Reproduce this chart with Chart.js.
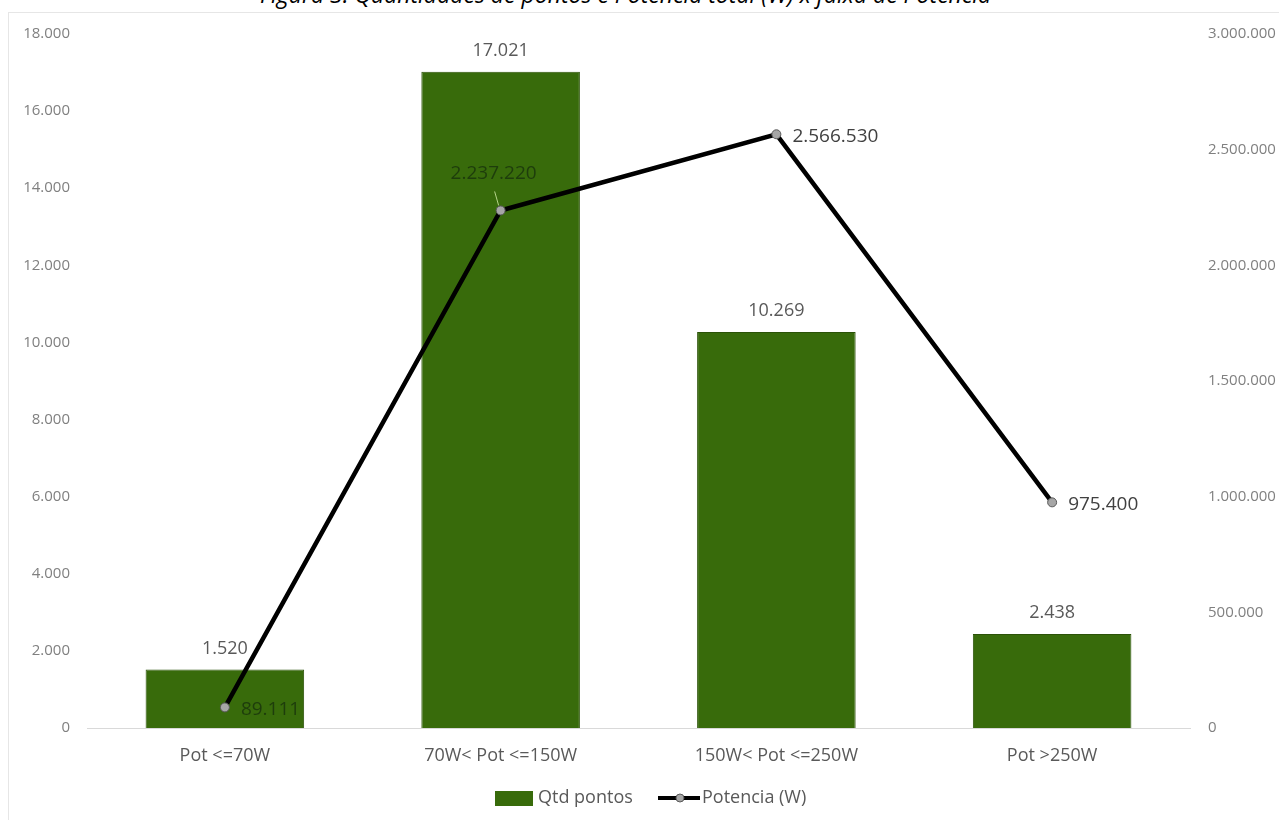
<!DOCTYPE html>
<html>
<head>
<meta charset="utf-8">
<script src="https://cdn.jsdelivr.net/npm/chart.js@4.4.1/dist/chart.umd.min.js"></script>
<style>
  html, body { margin: 0; padding: 0; background: #fff; overflow: hidden; }
  #wrap { position: relative; width: 1279px; height: 820px; overflow: hidden; }
  #title { position: absolute; top: -17px; left: -14px; width: 1279px; text-align: center; line-height: 23px;
           font-family: "Open Sans", sans-serif; font-style: italic; font-size: 23px; color: #000; white-space: nowrap; }
  #frame { position: absolute; left: 8px; top: 12px; width: 1271px; height: 808px;
           border-top: 1px solid #e6e6e6; border-left: 1px solid #e6e6e6; }
  canvas { position: absolute; left: 0; top: 0; }
</style>
</head>
<body>
<div id="wrap">
  <div id="frame"></div>
  <div id="title">Figura 3: Quantidades de pontos e Potência total (W) x faixa de Potência</div>
  <canvas id="c" width="1279" height="820"></canvas>
</div>
<script>
const categories = ["Pot <=70W", "70W< Pot <=150W", "150W< Pot <=250W", "Pot >250W"];
const qtdPontos = [1520, 17021, 10269, 2438];
const potencia = [89111, 2237220, 2566530, 975400];
const seriesNames = ["Qtd pontos", "Potencia (W)"];

function fmt(v) {
  return Math.round(v).toString().replace(/\B(?=(\d{3})+(?!\d))/g, ".");
}

const FONT = "'Open Sans', sans-serif";
const BAR_COLOR = "#386b0b";

const labelsPlugin = {
  id: "labelsPlugin",
  afterDatasetsDraw(chart) {
    const ctx = chart.ctx;
    ctx.save();
    ctx.font = "18px " + FONT;
    const barMeta = chart.getDatasetMeta(0);
    barMeta.data.forEach((el, i) => {
      ctx.fillStyle = "#595959";
      ctx.textAlign = "center";
      ctx.textBaseline = "middle";
      ctx.fillText(fmt(qtdPontos[i]), el.x, el.y - 21);
    });
    ctx.font = "19px " + FONT;
    const lineMeta = chart.getDatasetMeta(1);
    lineMeta.data.forEach((el, i) => {
      const txt = fmt(potencia[i]);
      ctx.textBaseline = "middle";
      if (i === 1) {
        ctx.strokeStyle = "#b5d48a";
        ctx.lineWidth = 1;
        ctx.beginPath();
        ctx.moveTo(el.x - 6, el.y - 19);
        ctx.lineTo(el.x - 2, el.y - 5);
        ctx.stroke();
        ctx.fillStyle = "#1e3d0c";
        ctx.textAlign = "center";
        ctx.fillText(txt, el.x - 7, el.y - 37);
      } else {
        ctx.fillStyle = (i === 0) ? "#1e3d0c" : "#404040";
        ctx.textAlign = "left";
        ctx.fillText(txt, el.x + 16, el.y + 2);
      }
    });
    // legend
    const ly = 798;
    ctx.font = "18px " + FONT;
    ctx.textAlign = "left";
    ctx.textBaseline = "middle";
    ctx.fillStyle = BAR_COLOR;
    ctx.fillRect(495, ly - 7, 38, 15);
    ctx.fillStyle = "#595959";
    ctx.fillText(seriesNames[0], 538, ly);
    ctx.strokeStyle = "#000";
    ctx.lineWidth = 4;
    ctx.beginPath();
    ctx.moveTo(658, ly);
    ctx.lineTo(700, ly);
    ctx.stroke();
    ctx.beginPath();
    ctx.arc(680, ly, 4, 0, Math.PI * 2);
    ctx.fillStyle = "#a6a6a6";
    ctx.fill();
    ctx.lineWidth = 1;
    ctx.strokeStyle = "#595959";
    ctx.stroke();
    ctx.fillStyle = "#595959";
    ctx.fillText(seriesNames[1], 702, ly);
    ctx.restore();
  }
};

new Chart(document.getElementById("c"), {
  data: {
    labels: categories,
    datasets: [
      {
        type: "bar",
        label: seriesNames[0],
        data: qtdPontos,
        backgroundColor: BAR_COLOR,
        borderColor: "#2b5208",
        borderWidth: 1,
        categoryPercentage: 1,
        barPercentage: 0.575,
        yAxisID: "y",
        order: 2
      },
      {
        type: "line",
        label: seriesNames[1],
        data: potencia,
        borderColor: "#000",
        borderWidth: 4.5,
        pointRadius: 4.5,
        pointBackgroundColor: "#a6a6a6",
        pointBorderColor: "#595959",
        pointBorderWidth: 1,
        tension: 0,
        yAxisID: "y2",
        order: 1
      }
    ]
  },
  options: {
    responsive: false,
    animation: false,
    devicePixelRatio: 1,
    layout: { padding: { top: 34, bottom: 0, left: 0, right: 0 } },
    plugins: { legend: { display: false }, tooltip: { enabled: false }, title: { display: false } },
    scales: {
      x: {
        grid: { display: false, drawTicks: false },
        border: { display: true, color: "#d9d9d9", width: 1 },
        ticks: { color: "#595959", font: { family: FONT, size: 18 }, padding: 17 },
        afterFit(s) { s.height = 92; }
      },
      y: {
        position: "left",
        min: 0, max: 18000,
        grid: { display: false, drawTicks: false },
        border: { display: false },
        ticks: { stepSize: 2000, color: "#808080", font: { family: FONT, size: 15 }, padding: 17,
                 callback: v => fmt(v) },
        afterFit(s) { s.width = 87; }
      },
      y2: {
        position: "right",
        min: 0, max: 3000000,
        grid: { display: false, drawTicks: false },
        border: { display: false },
        ticks: { stepSize: 500000, color: "#808080", font: { family: FONT, size: 15 }, padding: 18,
                 callback: v => fmt(v) },
        afterFit(s) { s.width = 89; }
      }
    }
  },
  plugins: [labelsPlugin]
});
</script>
</body>
</html>
